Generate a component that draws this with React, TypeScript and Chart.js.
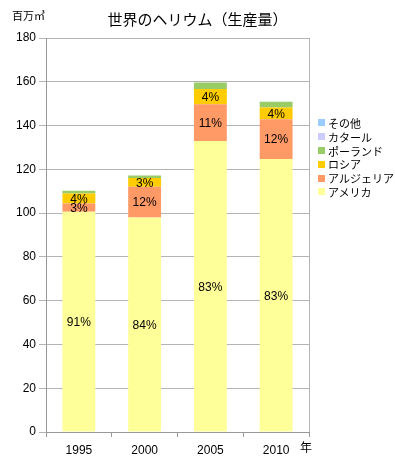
import React, { useEffect, useRef } from "react";
import { Chart, registerables } from "chart.js";

Chart.register(...registerables);

const years = ["1995", "2000", "2005", "2010"];
const usa = [100.6, 98, 132.9, 124.7];
const algeria = [3.8, 14, 16.8, 18.2];
const russia = [4.6, 4, 7.0, 5.4];
const poland = [1.2, 1.2, 3.0, 2.6];
const qatar = [0, 0, 0, 0];
const others = [0, 0, 0, 0];
const yTicks = [0, 20, 40, 60, 80, 100, 120, 140, 160, 180];

const seriesNames = ["アメリカ", "アルジェリア", "ロシア", "ポーランド", "カタール", "その他"];
const seriesColors = ["#FFFF99", "#FF9966", "#FFCC00", "#99CC66", "#CCCCFF", "#99CCFF"];
const labeledSeries = [0, 1, 2];

const FONT = "'Liberation Sans', 'Noto Sans CJK JP', sans-serif";
const JFONT = "'Noto Sans CJK JP', 'Liberation Sans', sans-serif";

export default function App() {
  const ref = useRef<HTMLCanvasElement>(null);
  useEffect(() => {
    const all = [usa, algeria, russia, poland, qatar, others];
    const totals = years.map((_, i) => all.reduce((s, a) => s + a[i], 0));
    const pctPlugin = {
      id: "pct",
      afterDatasetsDraw(chart: any) {
        const ctx = chart.ctx;
        ctx.save();
        ctx.font = "12px " + FONT;
        ctx.fillStyle = "#000";
        ctx.textAlign = "center";
        ctx.textBaseline = "middle";
        labeledSeries.forEach((di) => {
          const meta = chart.getDatasetMeta(di);
          meta.data.forEach((el: any, i: number) => {
            const v = all[di][i];
            const pct = Math.round((v / totals[i]) * 100);
            ctx.fillText(pct + "%", el.x, (el.y + el.base) / 2 + 1);
          });
        });
        ctx.restore();
      },
    };
    const borderPlugin = {
      id: "rborder",
      afterDraw(chart: any) {
        const { ctx, chartArea } = chart;
        ctx.save();
        ctx.strokeStyle = "#b3b3b3";
        ctx.lineWidth = 1;
        ctx.beginPath();
        ctx.moveTo(Math.round(chartArea.right) + 0.5, chartArea.top);
        ctx.lineTo(Math.round(chartArea.right) + 0.5, chartArea.bottom);
        ctx.stroke();
        ctx.restore();
      },
    };
    const chart = new Chart(ref.current!, {
      type: "bar",
      data: {
        labels: years,
        datasets: all.map((d, i) => ({
          label: seriesNames[i],
          data: d,
          backgroundColor: seriesColors[i],
          borderWidth: 0,
          barPercentage: 0.5,
          categoryPercentage: 1,
        })),
      },
      options: {
        animation: false,
        responsive: false,
        maintainAspectRatio: false,
        layout: { padding: { top: 38, right: 86, left: 0, bottom: 0 } },
        plugins: { legend: { display: false }, tooltip: { enabled: false }, title: { display: false } },
        scales: {
          x: {
            stacked: true,
            offset: true,
            grid: { drawOnChartArea: false, drawTicks: true, tickLength: 5, color: "#999999" },
            border: { color: "#999999" },
            ticks: { color: "#000", font: { size: 12, family: FONT }, padding: 6 },
            afterFit: (s: any) => { s.height = 34; },
          },
          y: {
            stacked: true,
            min: 0,
            max: 180,
            afterBuildTicks: (s: any) => { s.ticks = yTicks.map((v) => ({ value: v })); },
            grid: { color: "#b3b3b3", tickLength: 7 },
            border: { color: "#999999" },
            ticks: { color: "#000", font: { size: 12, family: FONT }, padding: 3 },
            afterFit: (s: any) => { s.width = 46; },
          },
        },
      },
      plugins: [pctPlugin, borderPlugin],
    });
    return () => chart.destroy();
  }, []);

  const legendOrder = [5, 4, 3, 2, 1, 0];
  return (
    <div style={{ position: "absolute", left: 0, top: 0, width: 395, height: 466, background: "#fff" }}>
      <canvas ref={ref} width={395} height={466} style={{ display: "block" }} />
      <div style={{ position: "absolute", left: 0, width: 395, top: 9, textAlign: "center", font: "15px " + JFONT, lineHeight: "20px", color: "#000" }}>
        世界のヘリウム（生産量）
      </div>
      <div style={{ position: "absolute", left: 12, top: 7, font: "11px " + JFONT, lineHeight: "16px", color: "#000" }}>百万㎥</div>
      <div style={{ position: "absolute", left: 300, top: 439, font: "12px " + JFONT, lineHeight: "16px", color: "#000" }}>年</div>
      <div style={{ position: "absolute", left: 318, top: 116 }}>
        {legendOrder.map((i) => (
          <div key={i} style={{ display: "flex", alignItems: "center", height: 13.8 }}>
            <span style={{ width: 7, height: 7, background: seriesColors[i], display: "inline-block", marginRight: 3 }} />
            <span style={{ font: "11px " + JFONT, lineHeight: "14px", color: "#000", whiteSpace: "nowrap" }}>{seriesNames[i]}</span>
          </div>
        ))}
      </div>
    </div>
  );
}
